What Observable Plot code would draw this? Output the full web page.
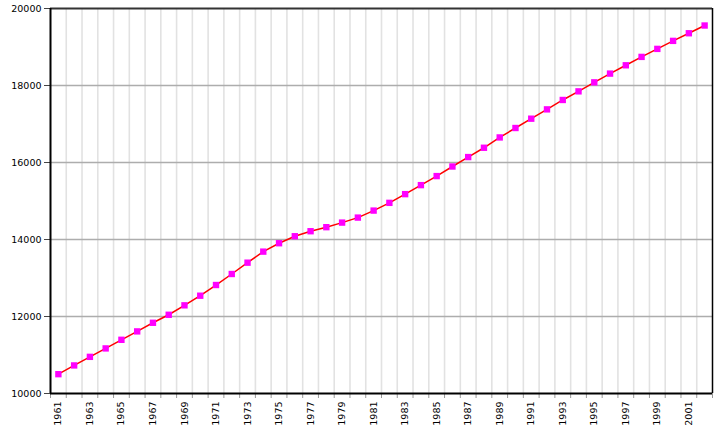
<!DOCTYPE html>
<html>
<head>
<meta charset="utf-8">
<script src="https://cdn.jsdelivr.net/npm/d3@7"></script>
<script src="https://cdn.jsdelivr.net/npm/@observablehq/plot@0.6"></script>
<style>
  html, body { margin: 0; padding: 0; background: #fff; }
  #chart svg { display: block; }
</style>
</head>
<body>
<div id="chart"></div>
<script>
const years = d3.range(1961, 2003);
const values = [
  10502, 10729, 10952, 11171, 11395, 11613, 11837, 12045, 12290, 12540,
  12818, 13104, 13398, 13685, 13903, 14085, 14215, 14320, 14439, 14569,
  14751, 14952, 15178, 15412, 15647, 15896, 16141, 16383, 16651, 16896,
  17138, 17380, 17624, 17848, 18082, 18309, 18525, 18743, 18951, 19159,
  19357, 19558
];
const yTicks = [10000, 12000, 14000, 16000, 18000, 20000];
const xLabelYears = years.filter(y => y % 2 === 1);

const data = years.map((year, i) => ({year, value: values[i]}));
const bounds = d3.range(1960.5, 2003, 1);
const innerBounds = bounds.slice(1, -1);
const innerY = yTicks.slice(1, -1);

const chart = Plot.plot({
  width: 726,
  height: 436,
  marginLeft: 50,
  marginRight: 14,
  marginTop: 8,
  marginBottom: 43,
  style: {fontFamily: "'DejaVu Sans', Verdana, sans-serif", fontSize: "9.5px", color: "#000", background: "#fff"},
  x: {domain: [1960.5, 2002.5]},
  y: {domain: [10000, 20000]},
  marks: [
    Plot.ruleX(innerBounds, {stroke: "#e2e2e2", strokeWidth: 1.6}),
    Plot.ruleY(innerY, {stroke: "#adadad", strokeWidth: 1.5}),
    Plot.axisX(bounds, {tickSize: 5, tickFormat: () => "", stroke: "#999", label: null}),
    Plot.axisX(xLabelYears, {tickSize: 0, tickPadding: 8, tickRotate: -90, tickFormat: d => String(d), label: null, fill: "#000"}),
    Plot.axisY(yTicks, {tickSize: 6, tickPadding: 3, tickFormat: d => String(d), label: null, stroke: "#444", fill: "#000"}),
    Plot.ruleY([20000], {stroke: "#333", strokeWidth: 2}),
    Plot.ruleX([2002.5], {stroke: "#000", strokeWidth: 1.5}),
    Plot.ruleX([1960.5], {stroke: "#000", strokeWidth: 2}),
    Plot.ruleY([10000], {stroke: "#000", strokeWidth: 2}),
    Plot.line(data, {x: "year", y: "value", stroke: "#ff0000", strokeWidth: 1.5}),
    Plot.dot(data, {x: "year", y: "value", symbol: "square", r: 3.6, fill: "#ff00ff", stroke: "none"})
  ]
});
document.getElementById("chart").appendChild(chart);
</script>
</body>
</html>
